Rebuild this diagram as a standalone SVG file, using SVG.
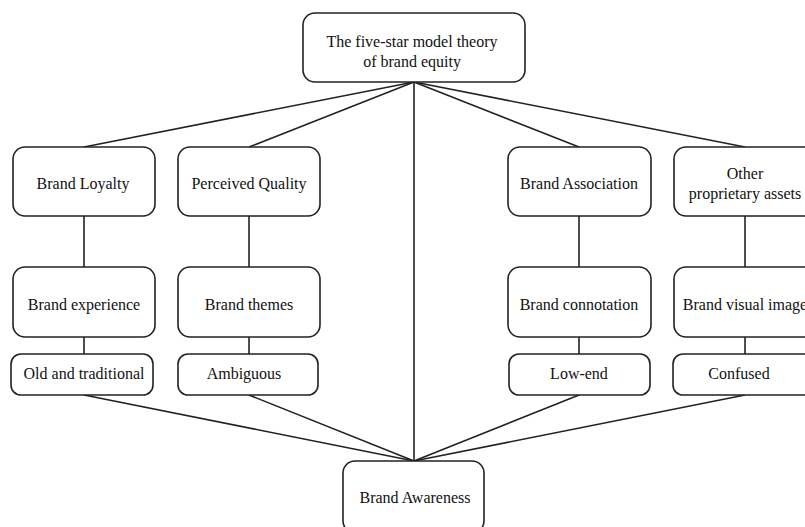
<svg xmlns="http://www.w3.org/2000/svg" width="805" height="527" viewBox="0 0 805 527">
<style>
.box{fill:#fff;stroke:#222;stroke-width:1.6}
.ln{stroke:#222;stroke-width:1.6;fill:none}
.t{font-family:"Liberation Serif","Times New Roman","DejaVu Serif",serif;font-size:16px;fill:#111;text-anchor:middle}
</style>
<rect width="805" height="527" fill="#fff"/>
<g id="connectors">
<line class="ln" x1="414" y1="82" x2="84" y2="147"/>
<line class="ln" x1="414" y1="82" x2="249" y2="147"/>
<line class="ln" x1="414" y1="82" x2="579" y2="147"/>
<line class="ln" x1="414" y1="82" x2="745" y2="147"/>
<line class="ln" x1="414" y1="82" x2="414" y2="461"/>
<line class="ln" x1="84" y1="216" x2="84" y2="267"/>
<line class="ln" x1="249" y1="216" x2="249" y2="267"/>
<line class="ln" x1="579" y1="216" x2="579" y2="267"/>
<line class="ln" x1="745" y1="216" x2="745" y2="267"/>
<line class="ln" x1="84" y1="337" x2="84" y2="354"/>
<line class="ln" x1="249" y1="337" x2="249" y2="354"/>
<line class="ln" x1="579" y1="337" x2="579" y2="354"/>
<line class="ln" x1="745" y1="337" x2="745" y2="354"/>
<line class="ln" x1="84" y1="395" x2="414" y2="461"/>
<line class="ln" x1="249" y1="395" x2="414" y2="461"/>
<line class="ln" x1="579" y1="395" x2="414" y2="461"/>
<line class="ln" x1="745" y1="395" x2="414" y2="461"/>
</g>
<g id="top"><rect class="box" x="303" y="13" width="222" height="69" rx="12"/><text class="t" x="412" y="47">The five-star model theory</text><text class="t" x="412" y="67">of brand equity</text></g>
<g id="loyalty"><rect class="box" x="13" y="147" width="142" height="69" rx="12"/><text class="t" x="83" y="189">Brand Loyalty</text></g>
<g id="quality"><rect class="box" x="178" y="147" width="142" height="69" rx="12"/><text class="t" x="249" y="189">Perceived Quality</text></g>
<g id="association"><rect class="box" x="508" y="147" width="143" height="69" rx="12"/><text class="t" x="579" y="189">Brand Association</text></g>
<g id="other"><rect class="box" x="674" y="147" width="142" height="69" rx="12"/><text class="t" x="745" y="179">Other</text><text class="t" x="745" y="199">proprietary assets</text></g>
<g id="experience"><rect class="box" x="13" y="267" width="142" height="70" rx="12"/><text class="t" x="84" y="310">Brand experience</text></g>
<g id="themes"><rect class="box" x="178" y="267" width="142" height="70" rx="12"/><text class="t" x="249" y="310">Brand themes</text></g>
<g id="connotation"><rect class="box" x="508" y="267" width="143" height="70" rx="12"/><text class="t" x="579" y="310">Brand connotation</text></g>
<g id="visual"><rect class="box" x="674" y="267" width="142" height="70" rx="12"/><text class="t" x="745" y="310">Brand visual image</text></g>
<g id="old"><rect class="box" x="11" y="354" width="142" height="41" rx="10"/><text class="t" x="84" y="379">Old and traditional</text></g>
<g id="ambiguous"><rect class="box" x="178" y="354" width="140" height="41" rx="10"/><text class="t" x="244" y="379">Ambiguous</text></g>
<g id="lowend"><rect class="box" x="509" y="354" width="141" height="41" rx="10"/><text class="t" x="579" y="379">Low-end</text></g>
<g id="confused"><rect class="box" x="673" y="354" width="142" height="41" rx="10"/><text class="t" x="739" y="379">Confused</text></g>
<g id="awareness"><rect class="box" x="343" y="461" width="141" height="72" rx="12"/><text class="t" x="415" y="503">Brand Awareness</text></g>
</svg>
